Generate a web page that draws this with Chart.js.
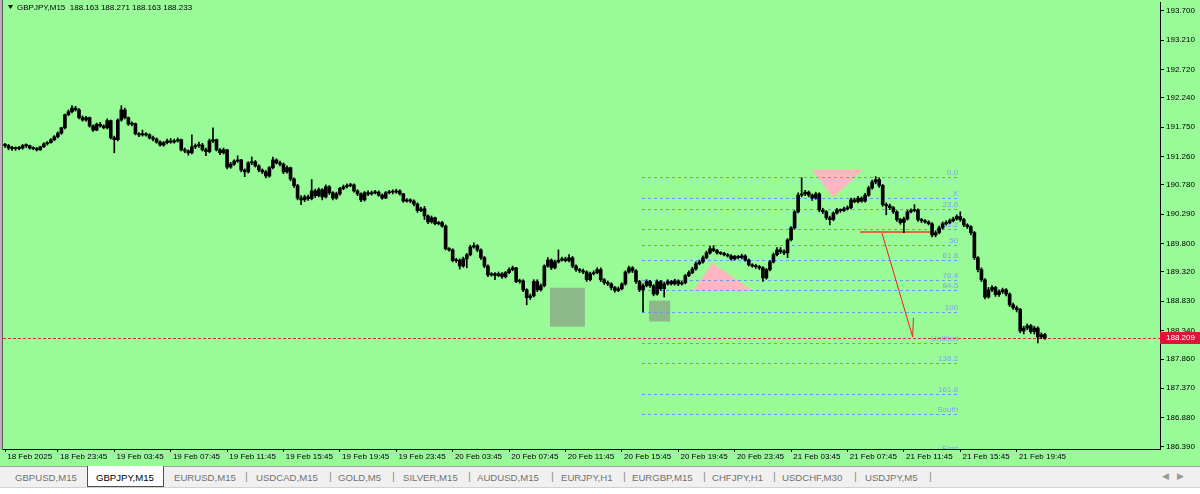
<!DOCTYPE html>
<html>
<head>
<meta charset="utf-8">
<script src="https://cdn.jsdelivr.net/npm/chart.js@4.4.1/dist/chart.umd.min.js"></script>
<style>
  html, body { margin: 0; padding: 0; }
  body { width: 1200px; height: 494px; overflow: hidden; position: relative; background: #f0f0f0; font-family: 'Liberation Sans', Arial, sans-serif; }
  #chart { position: absolute; left: 0; top: 0; }
  #tabs { position: absolute; left: 0; top: 466px; width: 1200px; height: 21px; background: #f0f0f0; border-top: 1px solid #a0a0a0; box-sizing: border-box; }
  #tabs .tab { position: absolute; top: 5px; font-size: 9.6px; color: #707070; white-space: nowrap; }
  #tabs .sep { position: absolute; top: 3px; font-size: 11px; color: #8c8c8c; }
  #tabs .active { position: absolute; left: 87px; top: -1px; width: 77px; height: 21px; background: #fff; border: 1px solid #505050; border-top: none; box-sizing: border-box; }
  #tabs .arrows { position: absolute; right: 8px; top: 4px; font-size: 9px; color: #999; letter-spacing: 8px; }
  #strip { position: absolute; left: 0; top: 487px; width: 1200px; height: 7px; background: #fff; border-top: 1px solid #d0d0d0; box-sizing: border-box; }
</style>
</head>
<body>
<canvas id="chart" width="1200" height="466"></canvas>
<div id="tabs"></div>
<div id="strip"></div>
<script>
// GBPJPY M15 bars, 18 Feb 20:00 .. 21 Feb
const opens = [
  191.46,191.44,191.40,191.39,191.39,191.40,191.44,191.44,191.40,191.39,
  191.37,191.42,191.47,191.49,191.54,191.59,191.65,191.74,191.96,192.01,
  192.07,192.04,191.91,191.87,191.91,191.77,191.70,191.80,191.77,191.74,
  191.86,191.57,191.54,191.87,192.04,191.91,191.80,191.81,191.64,191.62,
  191.64,191.62,191.57,191.55,191.50,191.45,191.49,191.52,191.50,191.52,
  191.54,191.37,191.35,191.32,191.42,191.44,191.45,191.37,191.34,191.52,
  191.54,191.37,191.32,191.37,191.08,191.13,191.18,191.20,191.03,191.00,
  191.15,191.17,191.10,191.03,191.00,190.93,191.07,191.20,191.15,191.13,
  191.00,191.07,190.88,190.77,190.56,190.53,190.58,190.55,190.68,190.60,
  190.70,190.58,190.75,190.65,190.56,190.63,190.72,190.75,190.77,190.78,
  190.68,190.63,190.53,190.65,190.63,190.65,190.66,190.61,190.56,190.65,
  190.66,190.66,190.68,190.63,190.51,190.53,190.51,190.46,190.35,190.38,
  190.26,190.16,190.23,190.13,190.15,190.09,189.71,189.69,189.51,189.52,
  189.42,189.54,189.61,189.74,189.76,189.69,189.56,189.42,189.27,189.29,
  189.26,189.29,189.24,189.31,189.36,189.39,189.16,189.17,189.02,188.89,
  188.92,189.16,189.02,189.09,189.42,189.52,189.39,189.49,189.52,189.54,
  189.51,189.56,189.42,189.36,189.34,189.32,189.19,189.29,189.31,189.36,
  189.19,189.14,189.12,189.06,189.01,189.04,189.12,189.32,189.39,189.34,
  189.16,189.02,189.09,189.16,189.09,188.95,189.16,189.04,189.12,189.16,
  189.12,189.17,189.12,189.14,189.26,189.31,189.37,189.46,189.49,189.56,
  189.64,189.71,189.68,189.64,189.63,189.61,189.59,189.54,189.58,189.56,
  189.59,189.52,189.44,189.42,189.41,189.39,189.22,189.36,189.49,189.61,
  189.69,189.66,189.64,189.86,190.06,190.33,190.61,190.63,190.66,190.61,
  190.56,190.63,190.36,190.33,190.23,190.20,190.31,190.36,190.35,190.38,
  190.40,190.53,190.50,190.56,190.51,190.61,190.73,190.83,190.87,190.77,
  190.45,190.43,190.40,190.33,190.20,190.15,190.21,190.33,190.35,190.36,
  190.20,190.18,190.16,190.13,189.94,189.98,190.06,190.13,190.15,190.18,
  190.21,190.25,190.20,190.11,190.08,189.98,189.56,189.36,189.19,188.90,
  189.02,189.06,188.94,188.99,189.02,188.95,188.77,188.72,188.69,188.33,
  188.38,188.42,188.32,188.38,188.23,188.27
];
const highs = [
  191.48,191.46,191.43,191.42,191.43,191.46,191.47,191.45,191.42,191.41,
  191.43,191.49,191.51,191.56,191.61,191.67,191.75,191.97,192.04,192.11,
  192.10,192.06,191.94,191.93,191.92,191.79,191.82,191.83,191.79,191.89,
  191.87,191.60,191.89,192.11,192.07,191.92,191.84,191.82,191.66,191.70,
  191.66,191.64,191.60,191.57,191.52,191.51,191.55,191.56,191.55,191.57,
  191.55,191.40,191.37,191.62,191.47,191.50,191.48,191.40,191.55,191.74,
  191.55,191.39,191.40,191.38,191.16,191.20,191.27,191.21,191.05,191.17,
  191.25,191.19,191.12,191.05,191.02,191.09,191.25,191.22,191.18,191.15,
  191.10,191.08,190.90,190.79,190.60,190.61,190.61,190.87,190.71,190.73,
  190.72,190.78,190.77,190.67,190.66,190.74,190.78,190.80,190.81,190.80,
  190.70,190.65,190.67,190.68,190.68,190.69,190.68,190.63,190.67,190.69,
  190.70,190.71,190.70,190.64,190.55,190.55,190.53,190.48,190.41,190.42,
  190.28,190.26,190.24,190.17,190.17,190.11,189.73,189.71,189.55,189.54,
  189.57,189.63,189.77,189.81,189.78,189.71,189.58,189.44,189.31,189.31,
  189.32,189.31,189.33,189.39,189.42,189.40,189.20,189.19,189.04,188.95,
  189.19,189.19,189.12,189.44,189.56,189.54,189.52,189.69,189.57,189.57,
  189.61,189.58,189.44,189.38,189.37,189.34,189.32,189.34,189.39,189.39,
  189.21,189.17,189.14,189.08,189.07,189.14,189.34,189.42,189.41,189.36,
  189.18,189.12,189.19,189.18,189.11,189.19,189.18,189.15,189.19,189.18,
  189.20,189.19,189.17,189.28,189.34,189.40,189.49,189.52,189.59,189.67,
  189.75,189.76,189.70,189.66,189.65,189.63,189.61,189.60,189.60,189.62,
  189.61,189.54,189.46,189.45,189.43,189.41,189.38,189.51,189.64,189.73,
  189.73,189.69,189.88,190.08,190.35,190.65,190.90,190.69,190.68,190.63,
  190.66,190.65,190.39,190.35,190.26,190.33,190.39,190.38,190.41,190.43,
  190.56,190.56,190.59,190.58,190.64,190.76,190.86,190.92,190.90,190.79,
  190.48,190.46,190.42,190.35,190.22,190.24,190.36,190.38,190.45,190.38,
  190.22,190.20,190.18,190.15,190.01,190.09,190.16,190.18,190.21,190.24,
  190.28,190.33,190.22,190.13,190.10,190.00,189.58,189.39,189.21,189.06,
  189.09,189.08,189.02,189.05,189.04,188.97,188.80,188.75,188.71,188.41,
  188.45,188.44,188.41,188.40,188.30,188.29
];
const lows = [
  191.41,191.37,191.36,191.36,191.37,191.38,191.41,191.38,191.37,191.35,
  191.36,191.41,191.45,191.48,191.52,191.57,191.63,191.72,191.94,191.99,
  192.02,191.89,191.85,191.85,191.75,191.68,191.69,191.75,191.72,191.72,
  191.55,191.32,191.52,191.85,191.89,191.78,191.77,191.62,191.59,191.60,
  191.60,191.55,191.52,191.48,191.43,191.43,191.47,191.48,191.48,191.50,
  191.35,191.32,191.28,191.30,191.39,191.41,191.35,191.27,191.32,191.49,
  191.35,191.29,191.30,191.05,191.06,191.11,191.16,191.00,190.92,190.98,
  191.12,191.08,191.00,190.97,190.90,190.91,191.05,191.13,191.10,190.97,
  190.98,190.85,190.74,190.53,190.45,190.50,190.52,190.53,190.57,190.58,
  190.53,190.56,190.62,190.53,190.54,190.61,190.70,190.73,190.75,190.66,
  190.60,190.50,190.51,190.60,190.61,190.63,190.59,190.54,190.55,190.63,
  190.63,190.64,190.61,190.49,190.49,190.48,190.43,190.32,190.33,190.20,
  190.13,190.14,190.11,190.11,190.07,189.69,189.67,189.49,189.48,189.37,
  189.40,189.39,189.59,189.72,189.66,189.53,189.39,189.24,189.25,189.19,
  189.24,189.21,189.22,189.29,189.34,189.14,189.13,188.99,188.77,188.86,
  188.90,188.99,189.00,189.07,189.40,189.36,189.37,189.47,189.50,189.49,
  189.49,189.39,189.33,189.31,189.29,189.16,189.17,189.27,189.29,189.16,
  189.11,189.09,189.02,188.98,188.99,189.02,189.10,189.30,189.31,189.13,
  188.99,188.65,189.07,189.06,188.92,188.93,189.01,188.90,189.10,189.10,
  189.10,189.09,189.10,189.12,189.24,189.29,189.35,189.44,189.47,189.54,
  189.62,189.66,189.62,189.61,189.59,189.57,189.52,189.52,189.54,189.54,
  189.50,189.42,189.40,189.38,189.36,189.16,189.20,189.34,189.47,189.59,
  189.63,189.61,189.56,189.84,190.04,190.31,190.58,190.60,190.58,190.52,
  190.54,190.33,190.30,190.20,190.11,190.18,190.29,190.32,190.33,190.36,
  190.38,190.48,190.48,190.49,190.49,190.59,190.71,190.80,190.74,190.42,
  190.28,190.37,190.30,190.17,190.12,189.98,190.19,190.31,190.33,190.17,
  190.15,190.14,190.11,189.91,189.91,189.96,190.04,190.11,190.13,190.16,
  190.19,190.17,190.08,190.05,189.94,189.53,189.32,189.16,188.87,188.88,
  188.99,188.91,188.91,188.96,188.92,188.74,188.69,188.65,188.30,188.28,
  188.35,188.29,188.28,188.13,188.20,188.19
];
const closes = [
  191.44,191.40,191.39,191.39,191.40,191.44,191.44,191.40,191.39,191.37,
  191.42,191.47,191.49,191.54,191.59,191.65,191.74,191.96,192.01,192.07,
  192.04,191.91,191.87,191.91,191.77,191.70,191.80,191.77,191.74,191.86,
  191.57,191.54,191.87,192.04,191.91,191.80,191.81,191.64,191.62,191.64,
  191.62,191.57,191.55,191.50,191.45,191.49,191.52,191.50,191.52,191.54,
  191.37,191.35,191.32,191.42,191.44,191.45,191.37,191.34,191.52,191.54,
  191.37,191.32,191.37,191.08,191.13,191.18,191.20,191.03,191.00,191.15,
  191.17,191.10,191.03,191.00,190.93,191.07,191.20,191.15,191.13,191.00,
  191.07,190.88,190.77,190.56,190.53,190.58,190.55,190.68,190.60,190.70,
  190.58,190.75,190.65,190.56,190.63,190.72,190.75,190.77,190.78,190.68,
  190.63,190.53,190.65,190.63,190.65,190.66,190.61,190.56,190.65,190.66,
  190.66,190.68,190.63,190.51,190.53,190.51,190.46,190.35,190.38,190.26,
  190.16,190.23,190.13,190.15,190.09,189.71,189.69,189.51,189.52,189.42,
  189.54,189.61,189.74,189.76,189.69,189.56,189.42,189.27,189.29,189.26,
  189.29,189.24,189.31,189.36,189.39,189.16,189.17,189.02,188.89,188.92,
  189.16,189.02,189.09,189.42,189.52,189.39,189.49,189.52,189.54,189.51,
  189.56,189.42,189.36,189.34,189.32,189.19,189.29,189.31,189.36,189.19,
  189.14,189.12,189.06,189.01,189.04,189.12,189.32,189.39,189.34,189.16,
  189.02,189.09,189.16,189.09,188.95,189.16,189.04,189.12,189.16,189.12,
  189.17,189.12,189.14,189.26,189.31,189.37,189.46,189.49,189.56,189.64,
  189.71,189.68,189.64,189.63,189.61,189.59,189.54,189.58,189.56,189.59,
  189.52,189.44,189.42,189.41,189.39,189.22,189.36,189.49,189.61,189.69,
  189.66,189.64,189.86,190.06,190.33,190.61,190.63,190.66,190.61,190.56,
  190.63,190.36,190.33,190.23,190.20,190.31,190.36,190.35,190.38,190.40,
  190.53,190.50,190.56,190.51,190.61,190.73,190.83,190.87,190.77,190.45,
  190.43,190.40,190.33,190.20,190.15,190.21,190.33,190.35,190.36,190.20,
  190.18,190.16,190.13,189.94,189.98,190.06,190.13,190.15,190.18,190.21,
  190.25,190.20,190.11,190.08,189.98,189.56,189.36,189.19,188.90,189.02,
  189.06,188.94,188.99,189.02,188.95,188.77,188.72,188.69,188.33,188.38,
  188.42,188.32,188.38,188.23,188.27,188.21
];

// time axis (bar index of each label) and price axis
const xTickIdx = [0, 15, 31, 47, 63, 79, 95, 111, 127, 143, 159, 175, 191, 207, 223, 239, 255, 271, 287];
const xTickLabels = [
  '18 Feb 2025', '18 Feb 23:45', '19 Feb 03:45', '19 Feb 07:45', '19 Feb 11:45', '19 Feb 15:45',
  '19 Feb 19:45', '19 Feb 23:45', '20 Feb 03:45', '20 Feb 07:45', '20 Feb 11:45', '20 Feb 15:45',
  '20 Feb 19:45', '20 Feb 23:45', '21 Feb 03:45', '21 Feb 07:45', '21 Feb 11:45', '21 Feb 15:45',
  '21 Feb 19:45'
];
const yTickValues = [193.700, 193.210, 192.720, 192.240, 191.750, 191.260, 190.780, 190.290,
  189.800, 189.320, 188.830, 188.340, 187.860, 187.370, 186.880, 186.390];
const lastPrice = 188.209;

// fibonacci object
const fibNames = ['0.0', 'X', '23.6', '38.2', '50', '61.8', '76.4', '84.5', '100', 'Untitled', '138.2', '161.8', 'South', 'East'];
const fibPrices = [190.917, 190.565, 190.380, 190.036, 189.776, 189.517, 189.190, 189.014, 188.653, 188.125, 187.798, 187.270, 186.943, 186.280];
const fibFrom = 180.7, fibTo = 270.1;

// drawn objects, in bar index / price
const boxes = [
  { x0: 154.6, x1: 164.5, p0: 189.056, p1: 188.402 },
  { x0: 182.7, x1: 188.7, p0: 188.840, p1: 188.490 }
];
const triangles = [
  [[200.6, 189.47], [195.2, 189.00], [212.2, 189.00]],
  [[228.9, 191.03], [243.4, 191.03], [234.9, 190.57]]
];
const levelLine = { x0: 242.6, x1: 262.4, p: 189.99 };
const arrowPath = [[248.8, 189.97], [257.5, 188.23], [257.7, 188.55]];

const tabNames = ['GBPUSD,M15', 'GBPJPY,M15', 'EURUSD,M15', 'USDCAD,M15', 'GOLD,M5', 'SILVER,M15',
  'AUDUSD,M15', 'EURJPY,H1', 'EURGBP,M15', 'CHFJPY,H1', 'USDCHF,M30', 'USDJPY,M5'];
const tabLeft = [15, 96, 174, 256, 338, 403, 477, 561, 632, 712, 782, 865];
const sepLeft = [245, 329, 392, 468, 551, 623, 703, 773, 854, 929];

const FONT = '8px "Liberation Sans", Arial, sans-serif';

/**
 * Tab strip under the chart
 */
function buildTabs() {
    const tabs = document.getElementById('tabs');
    let html = '<div class="active"></div>';
    tabNames.forEach((name, i) => {
        const style = i === 1 ? 'color:#000;' : '';
        html += `<span class="tab" style="left:${tabLeft[i]}px;${style}">${name}</span>`;
    });
    sepLeft.forEach(x => {
        html += `<span class="sep" style="left:${x}px">|</span>`;
    });
    html += '<span class="arrows">&#9664;&#9654;</span>';
    tabs.innerHTML = html;
}

/**
 * Background, objects, price marker and title
 */
const mtPlugin = {
    id: 'mt4',
    beforeDraw(c) {
        const ctx = c.ctx;
        ctx.save();
        ctx.fillStyle = '#98FB98';
        ctx.fillRect(0, 0, c.width, c.height);
        ctx.restore();
    },
    beforeDatasetsDraw(c) {
        const { ctx, chartArea: a, scales: { x, y } } = c;
        ctx.save();
        ctx.beginPath();
        ctx.rect(a.left, a.top, a.right - a.left, a.bottom - a.top);
        ctx.clip();

        // rectangles
        ctx.fillStyle = '#8DB98A';
        boxes.forEach(b => {
            const l = x.getPixelForValue(b.x0), r = x.getPixelForValue(b.x1);
            const t = y.getPixelForValue(b.p0), btm = y.getPixelForValue(b.p1);
            ctx.fillRect(l, t, r - l, btm - t);
        });

        // triangles
        ctx.fillStyle = '#FFB6C1';
        triangles.forEach(tri => {
            ctx.beginPath();
            tri.forEach(([i, p], k) => {
                const px = x.getPixelForValue(i), py = y.getPixelForValue(p);
                if (k === 0) ctx.moveTo(px, py); else ctx.lineTo(px, py);
            });
            ctx.closePath();
            ctx.fill();
        });

        // fibo levels
        const fx0 = x.getPixelForValue(fibFrom), fx1 = x.getPixelForValue(fibTo);
        ctx.font = FONT;
        ctx.textAlign = 'right';
        ctx.textBaseline = 'middle';
        fibPrices.forEach((p, i) => {
            const py = Math.round(y.getPixelForValue(p)) + 0.5;
            ctx.strokeStyle = '#6F98EA';
            ctx.lineWidth = 1;
            ctx.setLineDash([3, 3]);
            ctx.beginPath();
            ctx.moveTo(fx0, py);
            ctx.lineTo(fx1, py);
            ctx.stroke();
            ctx.fillStyle = '#7FA3EC';
            ctx.fillText(fibNames[i], fx1 + 1, py - 5);
        });
        ctx.setLineDash([]);

        // current price line
        const cy = Math.round(y.getPixelForValue(lastPrice)) + 0.5;
        ctx.strokeStyle = '#E8224A';
        ctx.setLineDash([3, 2]);
        ctx.beginPath();
        ctx.moveTo(a.left, cy);
        ctx.lineTo(a.right, cy);
        ctx.stroke();
        ctx.setLineDash([]);

        // level line
        ctx.strokeStyle = '#E2683A';
        ctx.lineWidth = 2;
        const ly = Math.round(y.getPixelForValue(levelLine.p));
        ctx.beginPath();
        ctx.moveTo(x.getPixelForValue(levelLine.x0), ly);
        ctx.lineTo(x.getPixelForValue(levelLine.x1), ly);
        ctx.stroke();

        // arrow path
        ctx.strokeStyle = '#F02020';
        ctx.lineWidth = 1;
        ctx.beginPath();
        arrowPath.forEach(([i, p], k) => {
            const px = x.getPixelForValue(i), py = y.getPixelForValue(p);
            if (k === 0) ctx.moveTo(px, py); else ctx.lineTo(px, py);
        });
        ctx.stroke();
        ctx.restore();
    },
    afterDraw(c) {
        const { ctx, chartArea: a, scales: { y } } = c;
        ctx.save();
        // window edge
        ctx.fillStyle = '#b4b4b4';
        ctx.fillRect(0, 0, 2, a.bottom + 1);
        ctx.fillStyle = '#5a5a5a';
        ctx.fillRect(2, 0, 1, a.bottom + 1);

        // price marker
        const cy = Math.round(y.getPixelForValue(lastPrice));
        ctx.fillStyle = '#DC143C';
        ctx.fillRect(a.right, cy - 6, 40, 12);
        ctx.fillStyle = '#fff';
        ctx.font = FONT;
        ctx.textAlign = 'left';
        ctx.textBaseline = 'middle';
        ctx.fillText(lastPrice.toFixed(3), a.right + 6, cy);

        // title
        ctx.fillStyle = '#000';
        ctx.beginPath();
        ctx.moveTo(8, 5);
        ctx.lineTo(13, 5);
        ctx.lineTo(10.5, 9);
        ctx.closePath();
        ctx.fill();
        ctx.fillText('GBPJPY,M15  188.163 188.271 188.163 188.233', 17, 7.5);
        ctx.restore();
    }
};

function initChart() {
    const bodyData = opens.map((o, i) => ({ x: i, y: [o, closes[i]] }));
    const wickData = lows.map((l, i) => ({ x: i, y: [l, highs[i]] }));
    const ctx = document.getElementById('chart').getContext('2d');

    new Chart(ctx, {
        type: 'bar',
        data: {
            datasets: [
                { data: bodyData, backgroundColor: '#000', borderWidth: 0, barThickness: 3, minBarLength: 1, grouped: false },
                { data: wickData, backgroundColor: '#000', borderWidth: 0, barThickness: 1, grouped: false }
            ]
        },
        options: {
            responsive: false,
            animation: false,
            devicePixelRatio: 1,
            layout: { padding: { left: 3, top: 2, right: 0, bottom: 0 } },
            plugins: { legend: { display: false }, tooltip: { enabled: false } },
            scales: {
                x: {
                    type: 'linear',
                    min: -0.57,
                    max: 327.66,
                    offset: false,
                    grid: { offset: false, drawOnChartArea: false, drawTicks: true, tickLength: 3, tickColor: '#000' },
                    border: { display: true, color: '#000', width: 1 },
                    ticks: {
                        autoSkip: false,
                        maxRotation: 0,
                        align: 'start',
                        padding: 0,
                        color: '#000',
                        font: { family: 'Liberation Sans', size: 8 },
                        callback: v => ' ' + (xTickLabels[xTickIdx.indexOf(v)] || '')
                    },
                    afterBuildTicks: s => { s.ticks = xTickIdx.map(v => ({ value: v })); },
                    afterFit: s => { s.height = 17; s.paddingLeft = 0; s.paddingRight = 0; }
                },
                y: {
                    position: 'right',
                    min: 186.35,
                    max: 193.85,
                    grid: { drawOnChartArea: false, drawTicks: true, tickLength: 4, tickColor: '#000' },
                    border: { display: true, color: '#000', width: 1 },
                    ticks: {
                        autoSkip: false,
                        padding: 2,
                        color: '#000',
                        font: { family: 'Liberation Sans', size: 8 },
                        callback: v => Number(v).toFixed(3)
                    },
                    afterBuildTicks: s => { s.ticks = yTickValues.map(v => ({ value: v })); },
                    afterFit: s => { s.width = 40; s.paddingTop = 0; s.paddingBottom = 0; }
                }
            }
        },
        plugins: [mtPlugin]
    });
}

buildTabs();
initChart();
</script>
</body>
</html>
